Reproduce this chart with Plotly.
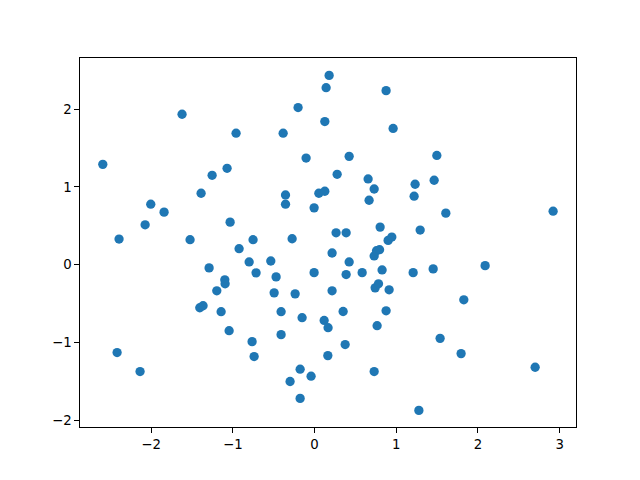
import plotly.graph_objects as go

x_vals = [-2.591, -2.392, -2.416, -2.135, -2.004, -2.073, -1.841, -1.621, -1.523, -1.388,
          -1.253, -1.290, -1.196, -1.070, -1.098, -1.094, -1.143, -1.404, -1.364, -1.033,
          -1.045, -0.960, -0.923, -0.800, -0.752, -0.715, -0.764, -0.739, -0.535, -0.470,
          -0.494, -0.409, -0.409, -0.384, -0.355, -0.355, -0.274, -0.237, -0.299, -0.201,
          -0.176, -0.176, -0.152, -0.103, -0.042, -0.005, -0.005, 0.053, 0.126, 0.118,
          0.126, 0.142, 0.179, 0.166, 0.163, 0.215, 0.215, 0.277, 0.264, 0.350,
          0.375, 0.387, 0.387, 0.424, 0.424, 0.583, 0.656, 0.668, 0.730, 0.730,
          0.759, 0.796, 0.730, 0.742, 0.783, 0.766, 0.803, 0.827, 0.876, 0.876,
          0.901, 0.913, 0.946, 0.962, 1.231, 1.207, 1.219, 1.277, 1.293, 1.452,
          1.464, 1.497, 1.537, 1.607, 1.794, 1.827, 2.088, 2.700, 2.920]
y_vals = [1.291, 0.329, -1.132, -1.376, 0.778, 0.513, 0.676, 1.936, 0.321, 0.919,
          1.150, -0.042, -0.337, 1.240, -0.196, -0.247, -0.606, -0.555, -0.529, 0.547,
          -0.850, 1.692, 0.205, 0.035, 0.321, -0.106, -0.991, -1.183, 0.047, -0.158,
          -0.363, -0.606, -0.901, 1.692, 0.897, 0.778, 0.333, -0.376, -1.504, 2.022,
          -1.346, -1.722, -0.683, 1.372, -1.436, 0.731, -0.103, 0.919, 0.945, -0.718,
          1.842, 2.278, 2.436, -0.812, -1.171, 0.150, -0.337, 1.163, 0.410, -0.603,
          -1.029, 0.410, -0.128, 1.394, 0.035, -0.103, 1.103, 0.829, 0.974, 0.112,
          0.179, 0.192, -1.376, -0.299, -0.247, -0.786, 0.483, -0.068, -0.594, 2.240,
          0.312, -0.324, 0.355, 1.753, 1.035, -0.103, 0.881, -1.876, 0.445, -0.055,
          1.086, 1.406, -0.949, 0.663, -1.145, -0.453, -0.013, -1.321, 0.688]
x_ticks = [-2, -1, 0, 1, 2, 3]
y_ticks = [-2, -1, 0, 1, 2]

fig = go.Figure(go.Scatter(
    x=x_vals, y=y_vals, mode="markers",
    marker=dict(color="#1f77b4", size=9.3, line=dict(width=0)),
))

axis_common = dict(
    showgrid=False, zeroline=False, showline=True, linecolor="black", linewidth=1,
    mirror=True, ticks="outside", ticklen=4.7, tickwidth=1, tickcolor="black",
    tickfont=dict(family="DejaVu Sans", size=13.3, color="black"),
)
fig.update_xaxes(range=[-2.87, 3.20], tickvals=x_ticks, **axis_common)
fig.update_yaxes(range=[-2.09, 2.66], tickvals=y_ticks, **axis_common)

fig.update_layout(
    width=640, height=480,
    margin=dict(l=80, r=64, t=58, b=53),
    plot_bgcolor="white", paper_bgcolor="white",
    showlegend=False,
)

fig.write_html("out.html",
               config={"displayModeBar": False},
               post_script="document.body.style.margin='0';document.body.style.overflow='hidden';")
